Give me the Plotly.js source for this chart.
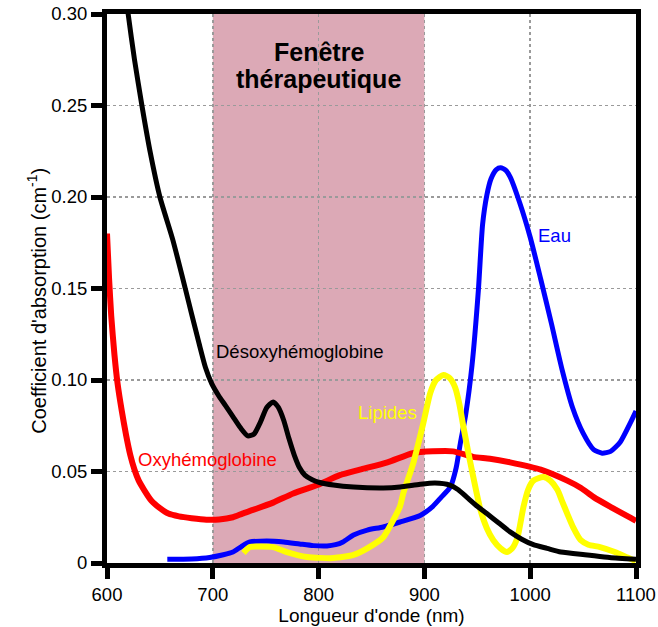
<!DOCTYPE html>
<html>
<head>
<meta charset="utf-8">
<script src="https://cdn.plot.ly/plotly-3.0.1.min.js"></script>
<style>
  html, body { margin: 0; padding: 0; background: #ffffff; }
  #chart { width: 658px; height: 627px; }
</style>
</head>
<body>
<div id="chart"></div>
<script>
// Absorption spectra of the main tissue chromophores (600–1100 nm)

// Désoxyhémoglobine
const deoxyNm = [616, 620, 626, 633, 641, 650, 662, 674, 680, 687, 693, 699, 706, 712, 719, 726, 733, 739, 745, 751, 757, 762, 767, 772, 777, 782, 787, 794, 801, 814, 833, 861, 877, 896, 910, 924, 932, 940, 950, 959, 970, 981, 992, 1003, 1016, 1029, 1054, 1075, 1100];
const deoxyVal = [0.32, 0.300, 0.275, 0.250, 0.224, 0.200, 0.177, 0.150, 0.136, 0.120, 0.107, 0.098, 0.091, 0.086, 0.080, 0.074, 0.0695, 0.0705, 0.077, 0.085, 0.088, 0.085, 0.078, 0.068, 0.059, 0.052, 0.048, 0.0455, 0.044, 0.0426, 0.0415, 0.041, 0.0415, 0.043, 0.0437, 0.0426, 0.040, 0.036, 0.031, 0.027, 0.022, 0.017, 0.013, 0.010, 0.008, 0.006, 0.0044, 0.003, 0.002];

// Oxyhémoglobine
const oxyNm = [600, 602, 604, 607, 610, 614, 618, 622, 626, 630, 635, 642, 650, 658, 668, 680, 694, 706, 719, 728, 738, 757, 776, 799, 820, 839, 865, 889, 908, 927, 946, 962, 981, 1010, 1035, 1048, 1060, 1078, 1095, 1100];
const oxyVal = [0.180, 0.155, 0.135, 0.114, 0.098, 0.083, 0.070, 0.059, 0.051, 0.045, 0.040, 0.034, 0.030, 0.027, 0.0255, 0.0245, 0.0237, 0.0238, 0.025, 0.027, 0.029, 0.033, 0.038, 0.0426, 0.048, 0.051, 0.055, 0.060, 0.061, 0.061, 0.058, 0.057, 0.055, 0.051, 0.045, 0.041, 0.036, 0.030, 0.0246, 0.023];

// Eau
const waterNm = [657, 680, 697, 710, 719, 727, 735, 751, 767, 782, 795, 808, 816, 823, 833, 846, 861, 877, 896, 908, 916, 924.5, 930, 934, 939, 945, 951, 955, 959, 963, 968, 972, 977, 981, 990, 1000, 1010, 1020, 1030, 1040, 1050, 1060, 1068, 1076, 1085, 1095, 1100];
const waterVal = [0.002, 0.0022, 0.003, 0.0045, 0.006, 0.009, 0.0115, 0.012, 0.0115, 0.0104, 0.0095, 0.0093, 0.010, 0.0115, 0.0153, 0.018, 0.0197, 0.0224, 0.026, 0.031, 0.036, 0.0415, 0.052, 0.0655, 0.081, 0.108, 0.149, 0.185, 0.201, 0.210, 0.215, 0.216, 0.2145, 0.211, 0.197, 0.178, 0.155, 0.131, 0.106, 0.085, 0.071, 0.062, 0.060, 0.061, 0.066, 0.077, 0.083];

// Lipides
const lipidNm = [729, 735, 745, 757, 770, 789, 814, 833, 846, 861, 870.6, 877, 880, 889.5, 899, 905.6, 911, 918, 924, 929, 933, 937, 943, 948, 953, 959, 965, 972, 978, 983, 988, 993.6, 998, 1003, 1012.5, 1019, 1025.7, 1030, 1035, 1041, 1047.5, 1055, 1066, 1080, 1092, 1100];
const lipidVal = [0.0055, 0.0087, 0.009, 0.0087, 0.006, 0.0033, 0.0027, 0.0044, 0.008, 0.014, 0.0235, 0.031, 0.038, 0.0546, 0.0765, 0.093, 0.100, 0.1027, 0.101, 0.096, 0.087, 0.074, 0.056, 0.042, 0.029, 0.019, 0.0126, 0.008, 0.006, 0.008, 0.014, 0.0306, 0.040, 0.045, 0.047, 0.045, 0.040, 0.034, 0.027, 0.019, 0.0126, 0.010, 0.0087, 0.006, 0.003, 0.001];

// Therapeutic window bounds (nm)
const windowNm = [700, 900];

// Axis ticks
const xTicks = [600, 700, 800, 900, 1000, 1100];
const yTicks = [0, 0.05, 0.10, 0.15, 0.20, 0.25, 0.30];
const yTickText = ['0', '0.05', '0.10', '0.15', '0.20', '0.25', '0.30'];

const FONT = 'Arial, "Liberation Sans", sans-serif';

function curve(x, y, color, width) {
  return {
    x: x, y: y, type: 'scatter', mode: 'lines',
    line: { color: color, width: width, shape: 'spline', smoothing: 0.6 },
    hoverinfo: 'skip', showlegend: false, cliponaxis: true
  };
}

// stacking order: water underneath, deoxyhaemoglobin on top
const traces = [
  curve(waterNm, waterVal, '#0000ff', 5),
  curve(oxyNm, oxyVal, '#ff0000', 6),
  curve(lipidNm, lipidVal, '#ffff00', 6),
  curve(deoxyNm, deoxyVal, '#000000', 5)
];

const axisCommon = {
  showline: true, linecolor: '#000000', linewidth: 5, mirror: true,
  ticks: 'outside', ticklen: 11, tickwidth: 5, tickcolor: '#000000',
  showgrid: true, gridcolor: '#9a9a9a', gridwidth: 1.5, griddash: 'dot',
  zeroline: false,
  tickfont: { family: FONT, size: 18.5, color: '#000000' }
};

const layout = {
  width: 658, height: 627,
  margin: { l: 107, r: 22, t: 14, b: 64 },
  paper_bgcolor: '#ffffff', plot_bgcolor: '#ffffff',
  font: { family: FONT, color: '#000000' },
  xaxis: Object.assign({}, axisCommon, {
    range: [600, 1100], tickvals: xTicks, ticktext: xTicks.map(String),
    title: { text: "Longueur d'onde (nm)", font: { family: FONT, size: 19, color: '#000000' }, standoff: 5 }
  }),
  yaxis: Object.assign({}, axisCommon, {
    range: [0, 0.30], tickvals: yTicks, ticktext: yTickText
  }),
  shapes: [{
    type: 'rect', xref: 'x', yref: 'paper',
    x0: windowNm[0], x1: windowNm[1], y0: 0, y1: 1,
    fillcolor: '#dca9b6', line: { width: 0 }, layer: 'below'
  }],
  annotations: [
    { text: "Coefficient d'absorption (cm<sup>-1</sup>)", textangle: -90,
      x: 0, xref: 'paper', xshift: -85, y: 0.143, yref: 'y', showarrow: false,
      font: { family: FONT, size: 20, color: '#000000' } },
    { text: '<b>Fenêtre</b>', x: 800, y: 0.2795, xref: 'x', yref: 'y', showarrow: false,
      font: { family: FONT, size: 25, color: '#000000' } },
    { text: '<b>thérapeutique</b>', x: 800, y: 0.2645, xref: 'x', yref: 'y', showarrow: false,
      font: { family: FONT, size: 25, color: '#000000' } },
    { text: 'Désoxyhémoglobine', x: 782.6, y: 0.1158, xref: 'x', yref: 'y', showarrow: false,
      font: { family: FONT, size: 18.5, color: '#000000' } },
    { text: 'Oxyhémoglobine', x: 694.6, y: 0.0568, xref: 'x', yref: 'y', showarrow: false,
      font: { family: FONT, size: 18.5, color: '#ff0000' } },
    { text: 'Lipides', x: 865, y: 0.0825, xref: 'x', yref: 'y', showarrow: false,
      font: { family: FONT, size: 18.5, color: '#ffff00' } },
    { text: 'Eau', x: 1023.4, y: 0.179, xref: 'x', yref: 'y', showarrow: false,
      font: { family: FONT, size: 18.5, color: '#0000ff' } }
  ]
};

Plotly.newPlot('chart', traces, layout, { staticPlot: true, displayModeBar: false });
</script>
</body>
</html>
